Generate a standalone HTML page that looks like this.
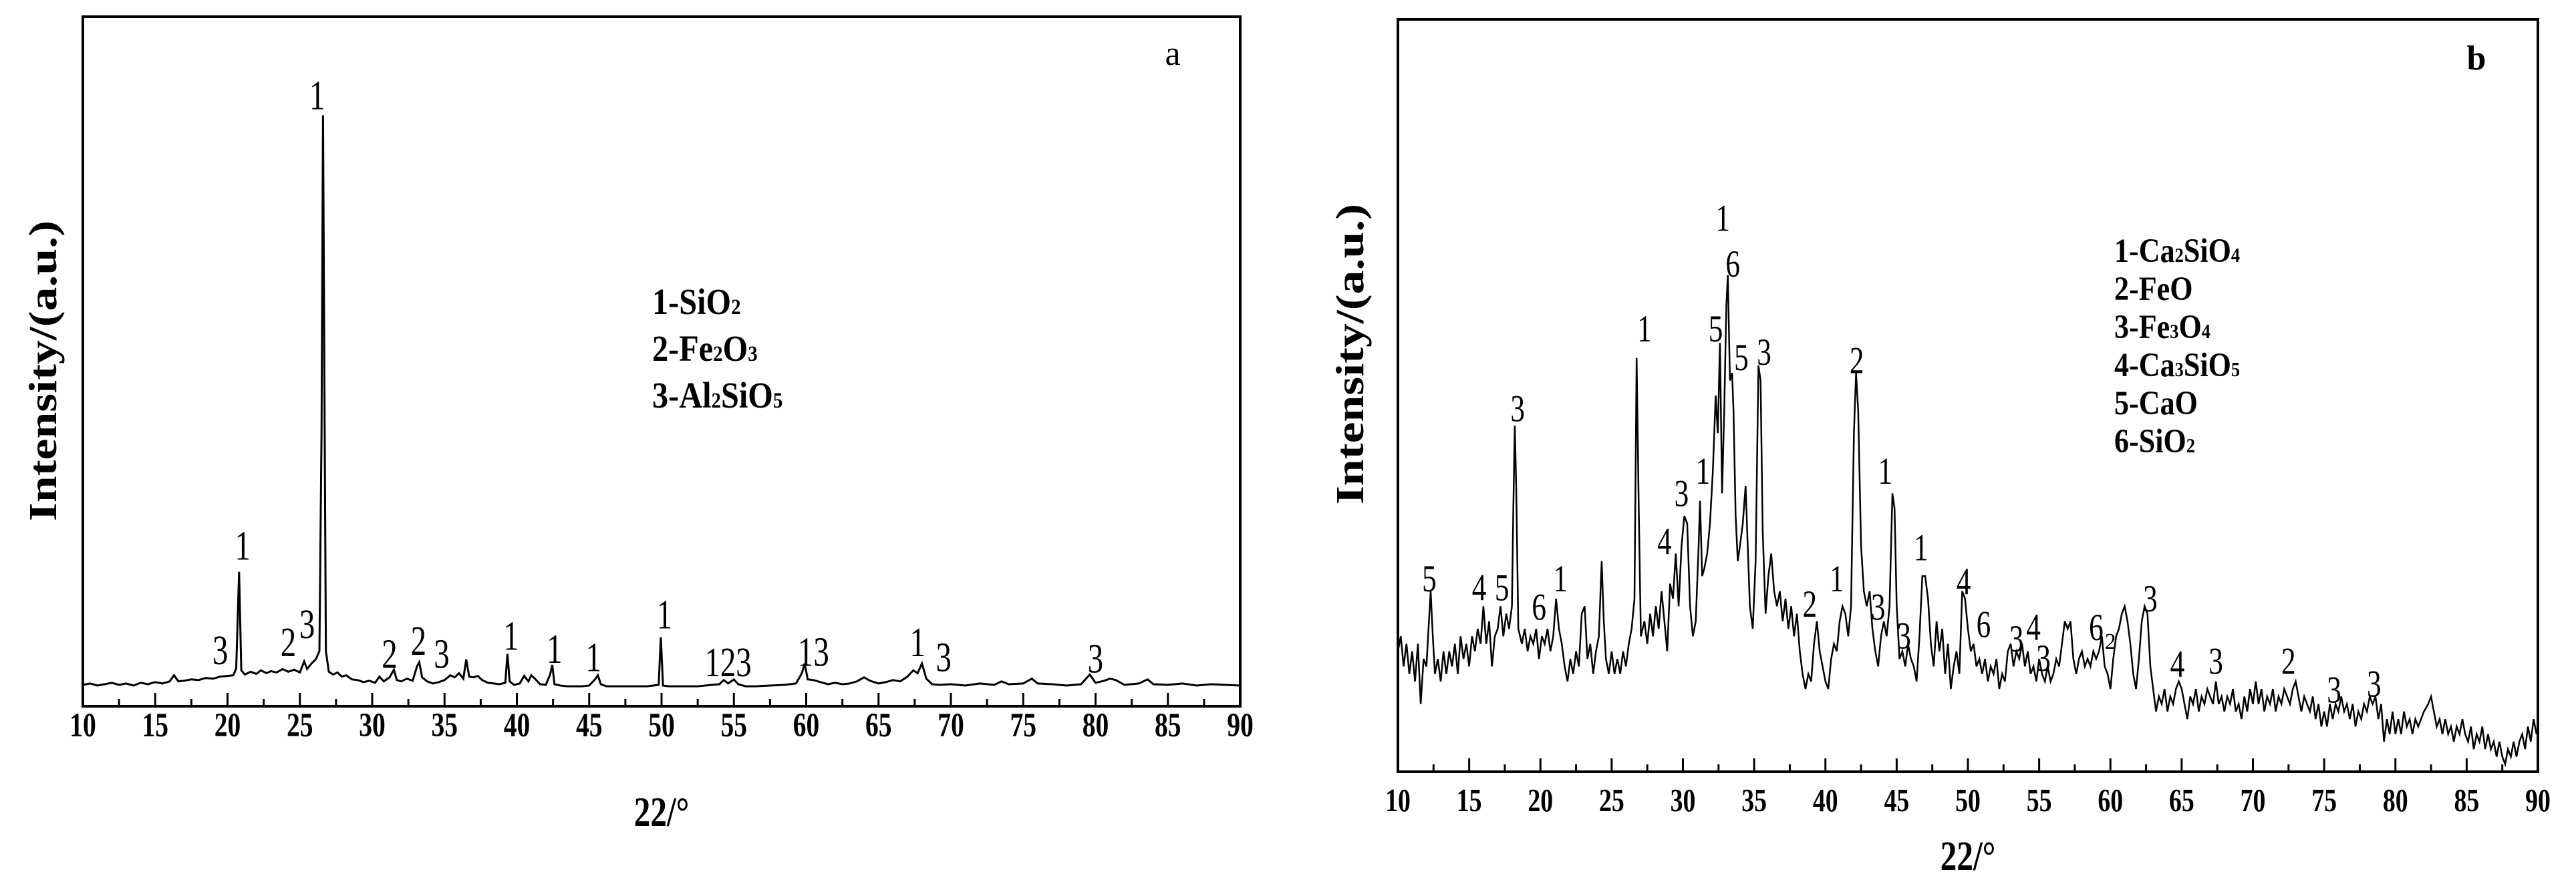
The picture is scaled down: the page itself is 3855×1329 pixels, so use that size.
<!DOCTYPE html>
<html><head><meta charset="utf-8"><style>
html,body{margin:0;padding:0;background:#fff;width:3855px;height:1329px;overflow:hidden}
svg{display:block}
text{font-family:"Liberation Serif",serif;fill:#000}
</style></head><body>
<svg id="chart" width="3855" height="1329" viewBox="0 0 3855 1329" xmlns="http://www.w3.org/2000/svg"></svg>
<script>
// ---- data: panel a ----
const seriesA = [[10,3.1],[10.5,3.3],[11,3.0],[11.5,3.2],[12,3.4],[12.5,3.1],[13,3.3],[13.5,3.0],[14,3.4],[14.5,3.2],[15,3.5],[15.5,3.3],[16,3.6],[16.3,4.5],[16.6,3.6],[17,3.7],[17.5,3.9],[18,3.8],[18.5,4.1],[19,4.0],[19.5,4.3],[20,4.4],[20.4,4.5],[20.6,5.5],[20.8,19.5],[20.95,5.2],[21.2,4.6],[21.6,5.0],[22,4.7],[22.3,5.2],[22.7,4.8],[23,5.1],[23.4,4.9],[23.8,5.4],[24.2,5.0],[24.6,5.3],[25,4.9],[25.3,6.5],[25.5,5.4],[25.8,6.2],[26.1,6.8],[26.35,8],[26.5,40],[26.6,85.7],[26.7,45],[26.8,8],[27,5.0],[27.3,4.6],[27.6,4.9],[27.9,4.3],[28.2,4.5],[28.6,3.9],[29,3.8],[29.4,3.5],[29.8,3.7],[30.2,3.4],[30.5,4.3],[30.8,3.6],[31.2,4.2],[31.5,5.3],[31.7,3.8],[32,3.6],[32.4,4.0],[32.8,3.7],[33.1,5.8],[33.25,6.4],[33.45,4.2],[33.8,3.6],[34.2,3.3],[34.6,3.5],[35,3.8],[35.4,4.5],[35.7,4.2],[36,4.8],[36.3,4.0],[36.5,6.8],[36.7,4.3],[37,4.2],[37.3,4.4],[37.6,3.8],[38,3.4],[38.4,3.3],[38.8,3.2],[39.2,3.4],[39.35,7.6],[39.5,3.6],[39.8,3.1],[40.2,3.3],[40.5,4.4],[40.8,3.6],[41,4.5],[41.3,3.9],[41.6,3.2],[42,3.1],[42.3,4.6],[42.45,6.0],[42.6,3.2],[43,3.0],[43.5,2.9],[44,2.9],[44.5,2.9],[45,3.0],[45.4,3.9],[45.6,4.5],[45.8,3.2],[46.2,2.9],[47,2.9],[48,2.9],[49,2.9],[49.8,3.1],[49.95,10],[50.1,3.0],[50.5,2.9],[51.5,2.9],[52.5,2.9],[53.5,3.1],[54,3.2],[54.3,3.8],[54.6,3.3],[55,3.9],[55.3,3.2],[55.8,2.9],[56.5,2.9],[57.5,3.0],[58.5,3.1],[59.3,3.3],[59.7,4.8],[59.9,6.2],[60.1,3.9],[60.5,3.8],[61,3.5],[61.5,3.2],[62,3.4],[62.5,3.2],[63,3.3],[63.5,3.6],[64,4.2],[64.4,3.7],[65,3.3],[65.5,3.5],[66,3.8],[66.5,3.6],[67,4.3],[67.4,5.2],[67.7,4.8],[68,6.2],[68.3,4.0],[68.7,3.2],[69.2,3.1],[70,3.2],[71,3.0],[72,3.3],[73,3.1],[73.5,3.6],[74,3.2],[75,3.3],[75.6,4.0],[76,3.3],[77,3.2],[78,3.0],[79,3.2],[79.6,4.6],[80,3.4],[80.6,3.7],[81,4.0],[81.4,3.8],[82,3.1],[83,3.3],[83.6,3.9],[84,3.2],[85,3.1],[86,3.3],[87,3.0],[88,3.2],[89,3.1],[90,3.0]];
const labelsA = [["1",26.2,88.6],["1",21.05,23.3],["3",19.5,8.1],["2",24.2,9.3],["3",25.5,11.9],["2",31.2,7.6],["2",33.2,9.5],["3",34.8,7.6],["1",39.6,10.2],["1",42.6,8.3],["1",45.3,7.1],["1",50.2,13.3],["123",54.6,6.4],["13",60.5,7.9],["1",67.7,9.3],["3",69.5,7.1],["3",80,6.9]];
// ---- data: panel b ----
const seriesB = [[10,16],[10.2,18],[10.4,14],[10.6,17],[10.8,13],[11,16],[11.2,12],[11.4,17],[11.6,9],[11.8,15],[12,14],[12.15,19],[12.3,24],[12.45,18],[12.6,13],[12.8,15],[13,12],[13.2,16],[13.4,13],[13.6,16],[13.8,14],[14,17],[14.2,13],[14.4,18],[14.6,15],[14.8,17],[15,14],[15.2,18],[15.4,16],[15.6,19],[15.8,17],[16,22],[16.2,17],[16.4,20],[16.6,14],[16.8,18],[17,19],[17.2,22],[17.4,18],[17.6,21],[17.8,19],[18,22],[18.1,35],[18.2,46],[18.3,38],[18.45,19],[18.7,17],[18.9,19],[19.1,16],[19.3,18],[19.5,17],[19.7,19],[19.9,15],[20.1,18],[20.3,17],[20.5,19],[20.7,16],[20.9,18],[21.1,23],[21.3,19],[21.5,17],[21.7,14],[21.9,12],[22.1,15],[22.3,13],[22.5,16],[22.7,14],[22.9,21],[23.1,22],[23.3,15],[23.5,17],[23.7,13],[23.9,16],[24.1,18],[24.3,28],[24.45,20],[24.6,15],[24.8,13],[25,16],[25.2,13],[25.4,15],[25.6,13],[25.8,16],[26,14],[26.2,17],[26.4,19],[26.6,23],[26.75,55],[26.9,35],[27.05,18],[27.3,20],[27.5,17],[27.7,21],[27.9,18],[28.1,22],[28.3,19],[28.5,24],[28.7,20],[28.9,16],[29.1,25],[29.3,23],[29.5,29],[29.7,22],[29.9,30],[30.1,34],[30.3,33],[30.5,22],[30.7,18],[30.9,20],[31.1,30],[31.2,36],[31.35,26],[31.5,27],[31.7,29],[31.9,33],[32.1,40],[32.3,50],[32.45,45],[32.6,57],[32.75,37],[32.9,48],[33.05,62],[33.15,66],[33.3,52],[33.45,53],[33.55,48],[33.7,34],[33.85,28],[34,30],[34.2,33],[34.4,38],[34.55,30],[34.7,22],[34.9,19],[35.1,28],[35.3,54],[35.45,52],[35.6,32],[35.8,21],[36,26],[36.2,29],[36.4,24],[36.6,22],[36.8,24],[37,20],[37.2,23],[37.4,19],[37.6,22],[37.8,18],[38,21],[38.2,16],[38.4,13],[38.6,11],[38.8,13],[39,12],[39.2,17],[39.4,20],[39.6,16],[39.8,14],[40,12],[40.2,11],[40.4,15],[40.6,17],[40.8,16],[41,20],[41.2,22],[41.4,21],[41.6,18],[41.8,22],[42,45],[42.15,53],[42.3,48],[42.5,30],[42.7,24],[42.9,22],[43.1,24],[43.3,19],[43.5,16],[43.7,14],[43.9,18],[44.1,20],[44.3,18],[44.5,22],[44.7,37],[44.85,35],[45,22],[45.2,15],[45.4,16],[45.6,14],[45.8,17],[46,15],[46.2,14],[46.4,12],[46.6,18],[46.8,26],[47,26],[47.2,23],[47.4,17],[47.6,14],[47.8,20],[48,16],[48.2,19],[48.4,13],[48.6,17],[48.8,11],[49,14],[49.2,16],[49.4,13],[49.6,24],[49.8,23],[50,19],[50.2,16],[50.4,17],[50.6,14],[50.8,15],[51,13],[51.2,15],[51.4,12],[51.6,14],[51.8,13],[52,15],[52.2,11],[52.4,13],[52.6,12],[52.8,16],[53,17],[53.2,14],[53.4,16],[53.6,15],[53.8,17],[54,14],[54.2,16],[54.4,13],[54.6,14],[54.8,12],[55,15],[55.2,13],[55.4,12],[55.6,14],[55.8,12],[56,13],[56.2,15],[56.4,14],[56.6,17],[56.8,20],[57,19],[57.2,20],[57.4,15],[57.6,13],[57.8,15],[58,16],[58.2,14],[58.4,15],[58.6,14],[58.8,16],[59,15],[59.2,16],[59.4,18],[59.6,14],[59.8,13],[60,11],[60.2,15],[60.4,18],[60.6,19],[60.8,21],[61,22],[61.2,20],[61.4,17],[61.6,13],[61.8,11],[62,15],[62.2,20],[62.4,22],[62.6,21],[62.8,14],[63,11],[63.2,8],[63.4,10],[63.6,9],[63.8,11],[64,8],[64.2,10],[64.4,9],[64.6,11],[64.8,12],[65,11],[65.2,9],[65.4,7],[65.6,10],[65.8,9],[66,11],[66.2,8],[66.4,10],[66.6,9],[66.8,11],[67,10],[67.2,9],[67.4,12],[67.6,9],[67.8,10],[68,8],[68.2,10],[68.4,9],[68.6,11],[68.8,8],[69,9],[69.2,7],[69.4,10],[69.6,8],[69.8,11],[70,9],[70.2,12],[70.4,9],[70.6,11],[70.8,8],[71,10],[71.2,9],[71.4,11],[71.6,8],[71.8,10],[72,9],[72.2,11],[72.4,10],[72.6,9],[72.8,11],[73,12],[73.2,10],[73.4,8],[73.6,10],[73.8,9],[74,8],[74.2,10],[74.4,7],[74.6,9],[74.8,6],[75,8],[75.2,6],[75.4,9],[75.6,7],[75.8,9],[76,8],[76.2,10],[76.4,8],[76.6,9],[76.8,7],[77,9],[77.2,6],[77.4,8],[77.6,7],[77.8,9],[78,8],[78.2,10],[78.4,9],[78.6,10],[78.8,7],[79,9],[79.2,4],[79.4,7],[79.6,5],[79.8,8],[80,5],[80.2,7],[80.4,5],[80.6,8],[80.8,6],[81,7],[81.2,5],[81.4,7],[81.6,6],[81.8,7],[82,8],[82.3,9],[82.5,10],[82.7,8],[82.9,6],[83.1,7],[83.3,5],[83.5,7],[83.7,5],[83.9,6],[84.1,4],[84.3,6],[84.5,5],[84.7,7],[84.9,5],[85.1,4],[85.3,6],[85.5,3],[85.7,5],[85.9,4],[86.1,6],[86.3,3],[86.5,5],[86.7,3],[86.9,4],[87.1,2],[87.3,4],[87.5,2],[87.7,1],[87.9,3],[88.1,2],[88.3,4],[88.5,2],[88.7,4],[88.9,5],[89.1,3],[89.3,6],[89.5,4],[89.7,7],[89.9,5],[90,6]];
const labelsB = [["5",12.2,25.7],["4",15.7,24.5],["5",17.3,24.5],["6",19.9,21.9],["1",21.4,25.7],["3",18.4,48.3],["1",27.3,58.9],["4",28.7,30.6],["3",29.9,37],["1",31.4,40],["5",32.3,58.9],["1",32.8,73.6],["6",33.5,67.5],["5",34.1,55.1],["3",35.7,55.8],["2",42.2,54.7],["2",38.9,22.3],["1",40.8,25.7],["3",43.7,21.9],["1",44.2,40],["3",45.5,18.1],["1",46.7,29.8],["4",49.7,25.3],["6",51.1,19.6],["3",53.4,17.7],["4",54.6,19.2],["3",55.3,15.1],["6",59,19.2],["3",62.8,23],["4",64.7,14.3],["3",67.4,14.7],["2",72.5,14.7],["3",75.7,10.9],["3",78.5,11.7]];
const smallLabelsB = [["2",60,17.4]];
const xTicks = [10,15,20,25,30,35,40,45,50,55,60,65,70,75,80,85,90];

const NS="http://www.w3.org/2000/svg";
const svg=document.getElementById('chart');
function mk(tag,attrs,parent){const e=document.createElementNS(NS,tag);for(const k in attrs)e.setAttribute(k,attrs[k]);(parent||svg).appendChild(e);return e;}

function panel(p){
  const g=mk('g',{});
  
  
  const X=v=>p.x0+(v-10)/80*(p.x1-p.x0);
  const Y=v=>p.y1-v/100*(p.y1-p.y0);
  const d=p.series.map((pt,i)=>(i?'L':'M')+X(pt[0]).toFixed(1)+' '+Y(pt[1]).toFixed(1)).join('');
  const path=mk('path',{d:d,fill:'none',stroke:'#000','stroke-width':p.sw,'stroke-linejoin':'miter'},g);
  
  
  const fr=mk('rect',{x:p.x0,y:p.y0,width:p.x1-p.x0,height:p.y1-p.y0,fill:'none',stroke:'#000','stroke-width':4},g);
  
  
  for(let v=10;v<=90;v+=2.5){
    const major=(v%5===0);
    const t=mk('line',{x1:X(v),x2:X(v),y1:p.y1,y2:p.y1-(major?20:11),stroke:'#000','stroke-width':3},g);
    
    
  }
  xTicks.forEach(v=>{
    const t=mk('text',{x:0,y:0,'text-anchor':'middle','font-size':p.tickFs,'font-weight':'bold',transform:`translate(${X(v)},${p.tickY}) scale(0.9,1.15)`},g);
    t.textContent=v;
    
    
  });
  p.labels.forEach(l=>{
    const t=mk('text',{x:0,y:0,'text-anchor':'middle','font-size':p.lblFs,transform:`translate(${X(l[1])},${Y(l[2])+p.lblFs*0.4}) scale(0.9,1.2)`},g);
    t.textContent=l[0];
    
    
  });
  (p.small||[]).forEach(l=>{
    const t=mk('text',{x:X(l[1]),y:Y(l[2])+12,'text-anchor':'middle','font-size':p.lblFs*0.7},g);
    t.textContent=l[0];
    
    
  });
  const xt=mk('text',{x:0,y:0,'text-anchor':'middle','font-size':52,'font-weight':'bold',transform:`translate(${(p.x0+p.x1)/2},${p.titleY}) scale(0.95,1.2)`},g);
  xt.textContent='22/°';
  
  
  const yt=mk('text',{x:0,y:0,'text-anchor':'middle','font-size':56,'font-weight':'bold',transform:`translate(${p.yTitleX},${p.yTitleY}) rotate(-90) scale(1.28,1.05)`},g);
  yt.textContent='Intensity/(a.u.)';
  
  
  const pl=mk('text',{x:p.letter[0],y:p.letter[1],'text-anchor':'middle','font-size':52,'font-weight':p.letter[2]},g);
  pl.textContent=p.id;
  
  
  p.legend.forEach((parts,i)=>{
    const t=mk('text',{x:0,y:0,'font-size':p.legFs,'font-weight':'bold',transform:`translate(${p.legX},${p.legY+i*p.legDy}) scale(1.05,1.2)`},g);
    
    
    parts.forEach(pt=>{
      const s=mk('tspan',{},t);
      if(pt[1]){s.setAttribute('font-size',p.legFs*0.6);}
      s.textContent=pt[0];
    });
  });
}

panel({id:'a',x0:124,x1:1856,y0:25,y1:1057,series:seriesA,labels:labelsA,sw:3,
  tickY:1102,tickFs:44,lblFs:52,titleY:1236,yTitleX:84,yTitleY:555,letter:[1755,97,'normal'],
  legX:976,legY:470,legDy:70,legFs:46,
  legend:[[["1-SiO",0],["2",1]],[["2-Fe",0],["2",1],["O",0],["3",1]],[["3-Al",0],["2",1],["SiO",0],["5",1]]]});
panel({id:'b',x0:2092,x1:3798,y0:29,y1:1155,series:seriesB,labels:labelsB,small:smallLabelsB,sw:2.5,
  tickY:1214,tickFs:42,lblFs:48,titleY:1302,yTitleX:2040,yTitleY:530,letter:[3706,104,'bold'],
  legX:3164,legY:392,legDy:57,legFs:42,
  legend:[[["1-Ca",0],["2",1],["SiO",0],["4",1]],[["2-FeO",0]],[["3-Fe",0],["3",1],["O",0],["4",1]],[["4-Ca",0],["3",1],["SiO",0],["5",1]],[["5-CaO",0]],[["6-SiO",0],["2",1]]]});
</script>
</body></html>
